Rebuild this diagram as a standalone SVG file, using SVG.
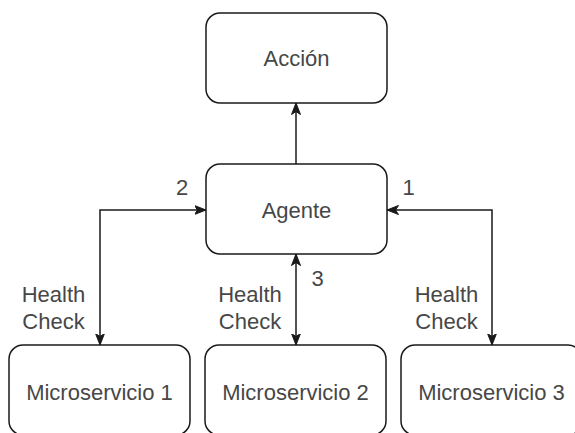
<svg xmlns="http://www.w3.org/2000/svg" width="575" height="433" viewBox="0 0 575 433">
  <style>
    .box { fill: #ffffff; stroke: #1a1a1a; stroke-width: 1.5; }
    .label { font-family: "Liberation Sans", Arial, sans-serif; font-size: 22px; fill: #474747; text-anchor: middle; }
    .edge { fill: none; stroke: #1a1a1a; stroke-width: 1.5; }
  </style>
  <defs>
    <marker id="arrow" viewBox="0 0 12 10" refX="11.5" refY="5" markerWidth="12" markerHeight="10" markerUnits="userSpaceOnUse" orient="auto-start-reverse">
      <path d="M0,0.5 L11.5,5 L0,9.5 L3,5 Z" fill="#1a1a1a" stroke="#1a1a1a" stroke-width="1" stroke-linejoin="miter"/>
    </marker>
  </defs>
  <rect width="575" height="433" fill="#ffffff"/>

  <g id="connectors">
    <!-- Agente to Acción -->
    <path class="edge" d="M296,164 L296,103" marker-end="url(#arrow)"/>
    <!-- Agente and Microservicio 1 -->
    <path class="edge" d="M206,210 L100,210 L100,345" marker-start="url(#arrow)" marker-end="url(#arrow)"/>
    <!-- Agente and Microservicio 2 -->
    <path class="edge" d="M296,254 L296,345" marker-start="url(#arrow)" marker-end="url(#arrow)"/>
    <!-- Agente and Microservicio 3 -->
    <path class="edge" d="M387,210 L492,210 L492,345" marker-start="url(#arrow)" marker-end="url(#arrow)"/>
    <text class="label" x="182" y="195">2</text>
    <text class="label" x="408.5" y="195">1</text>
    <text class="label" x="317.5" y="286">3</text>
    <text class="label" x="53.5" y="302">Health</text>
    <text class="label" x="53.5" y="328.5">Check</text>
    <text class="label" x="250" y="302">Health</text>
    <text class="label" x="250" y="328.5">Check</text>
    <text class="label" x="446.5" y="302">Health</text>
    <text class="label" x="446.5" y="328.5">Check</text>
  </g>

  <g id="accion">
    <rect class="box" x="206" y="13" width="181" height="90" rx="14"/>
    <text class="label" x="296.5" y="66">Acción</text>
  </g>
  <g id="agente">
    <rect class="box" x="206" y="164" width="181" height="90" rx="14"/>
    <text class="label" x="296.5" y="218">Agente</text>
  </g>
  <g id="microservicio1">
    <rect class="box" x="9" y="345" width="181" height="90" rx="14"/>
    <text class="label" x="99.5" y="399.5">Microservicio 1</text>
  </g>
  <g id="microservicio2">
    <rect class="box" x="205" y="345" width="181" height="90" rx="14"/>
    <text class="label" x="295.5" y="399.5">Microservicio 2</text>
  </g>
  <g id="microservicio3">
    <rect class="box" x="401" y="345" width="181" height="90" rx="14"/>
    <text class="label" x="491.5" y="399.5">Microservicio 3</text>
  </g>
</svg>
